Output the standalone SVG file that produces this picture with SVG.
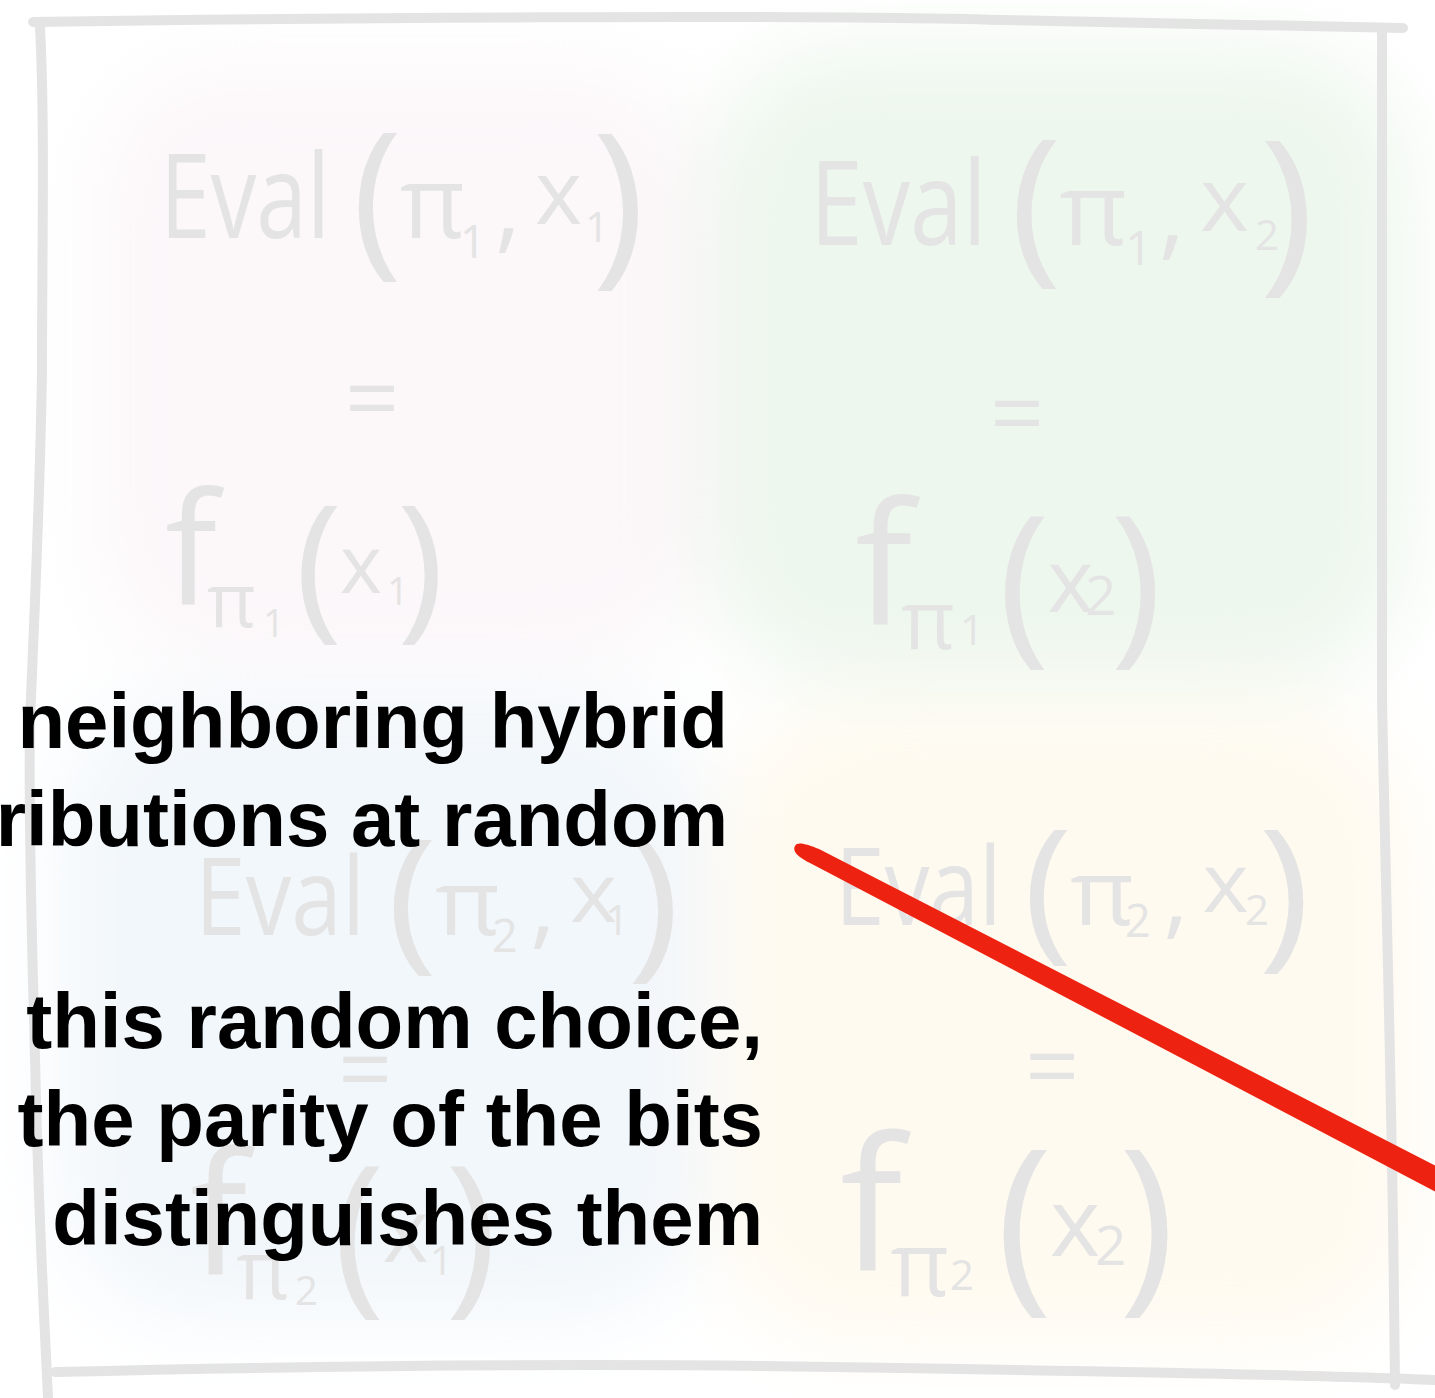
<svg xmlns="http://www.w3.org/2000/svg" width="1435" height="1398" viewBox="0 0 1435 1398">
<style>
.m{font-family:"Open Sans","DejaVu Sans",sans-serif;font-weight:400;fill:#e4e4e4}
.t{font-family:"Liberation Sans",Arial,sans-serif;font-weight:bold;font-size:78px;fill:#000;text-anchor:end}
.frame{fill:none;stroke:#e4e4e4;stroke-width:10;stroke-linecap:round;stroke-linejoin:round}
</style>
<defs>
<filter id="blur" x="-20%" y="-20%" width="140%" height="140%"><feGaussianBlur stdDeviation="40"/></filter>
<g id="evalT">
<text class="m" x="0" y="0" font-size="118" textLength="170" lengthAdjust="spacingAndGlyphs">Eval</text>
<text class="m" x="192" y="17" font-size="170">(</text>
<text class="m" x="240" y="0" font-size="100">π</text>
<text class="m" x="335" y="2" font-size="100">,</text>
<text class="m" x="375" y="-14" font-size="90">x</text>
<text class="m" x="432" y="25" font-size="180">)</text>
</g>
<g id="fT">
<text class="m" x="0" y="0" font-size="155">f</text>
<text class="m" x="42" y="22" font-size="75">π</text>
<text class="m" x="130" y="15" font-size="160">(</text>
<text class="m" x="175" y="-12" font-size="80">x</text>
<text class="m" x="232" y="15" font-size="160">)</text>
</g>
</defs>
<rect width="1435" height="1398" fill="#ffffff"/>
<g id="washes" filter="url(#blur)">
<rect x="100" y="70" width="600" height="590" rx="120" fill="#fcf7f9"/>
<rect x="705" y="45" width="705" height="640" rx="140" fill="#eef7ee"/>
<rect x="60" y="690" width="650" height="630" rx="140" fill="#f2f7fb"/>
<rect x="715" y="705" width="700" height="640" rx="140" fill="#fffaf0"/>
</g>
<g id="frame">
<path class="frame" d="M33,22 C300,18 800,14 1000,20 C1200,24 1350,26 1403,28"/>
<path class="frame" d="M40,28 C45,120 42,250 42,370 C40,500 35,600 30,720 C28,850 34,1000 36,1100 C40,1250 45,1330 48,1398"/>
<path class="frame" d="M1382,30 C1380,300 1380,500 1382,700 C1386,900 1392,1100 1394,1300 L1395,1385"/>
<path class="frame" d="M55,1372 C300,1366 600,1362 900,1368 C1150,1372 1350,1376 1435,1380"/>
</g>
<g id="q11">
<use href="#evalT" transform="translate(160,238)"/>
<text class="m" x="460" y="258" font-size="45">1</text>
<text class="m" x="585" y="242" font-size="42">1</text>
<text class="m" x="345" y="432" font-size="95">=</text>
<use href="#fT" transform="translate(165,605)"/>
<text class="m" x="263" y="637" font-size="38">1</text>
<text class="m" x="387" y="605" font-size="38">1</text>
</g>
<g id="q12">
<use href="#evalT" transform="translate(810,245) scale(1.04,1.0)"/>
<text class="m" x="1125" y="265" font-size="48">1</text>
<text class="m" x="1255" y="250" font-size="42">2</text>
<text class="m" x="990" y="447" font-size="95">=</text>
<use href="#fT" transform="translate(855,625) scale(1.1)"/>
<text class="m" x="960" y="645" font-size="42">1</text>
<text class="m" x="1085" y="615" font-size="55">2</text>
</g>
<g id="q21">
<use href="#evalT" transform="translate(195,935) scale(1.0,0.92)"/>
<text class="m" x="492" y="952" font-size="45">2</text>
<text class="m" x="605" y="935" font-size="42">1</text>
<text class="m" x="338" y="1103" font-size="95">=</text>
<use href="#fT" transform="translate(190,1275) scale(1.1)"/>
<text class="m" x="295" y="1305" font-size="40">2</text>
<text class="m" x="430" y="1275" font-size="40">1</text>
</g>
<g id="q22">
<use href="#evalT" transform="translate(835,925) scale(0.98,0.92)"/>
<text class="m" x="1125" y="937" font-size="45">2</text>
<text class="m" x="1245" y="925" font-size="42">2</text>
<text class="m" x="1025" y="1100" font-size="95">=</text>
<use href="#fT" transform="translate(840,1270) scale(1.2)"/>
<text class="m" x="950" y="1290" font-size="42">2</text>
<text class="m" x="1095" y="1265" font-size="55">2</text>
</g>
<g id="caption">
<text class="t" x="728" y="748">neighboring hybrid</text>
<text class="t" x="728" y="846">ributions at random</text>
<text class="t" x="763" y="1048">this random choice,</text>
<text class="t" x="763" y="1146">the parity of the bits</text>
<text class="t" x="763" y="1245">distinguishes them</text>
</g>
<g id="connectors">
<path d="M795,846 C797,841 807,844 819,849 L1436,1166 L1436,1192 L810,863 C798,857 792,851 795,846 Z" fill="#ee2211"/>
</g>
</svg>
